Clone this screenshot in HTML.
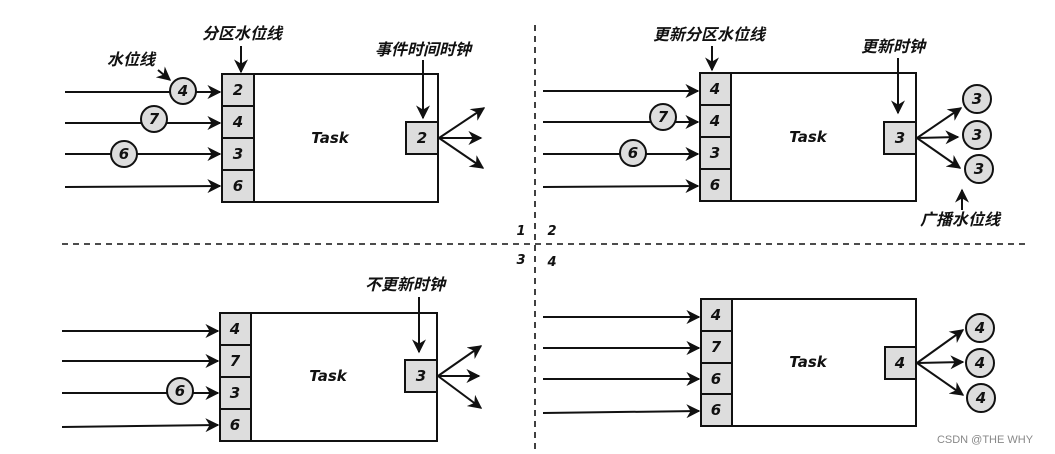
<!DOCTYPE html>
<html><head><meta charset="utf-8"><style>
html,body{margin:0;padding:0;background:#fff;}
svg{display:block}
text{font-family:"DejaVu Sans","Noto Sans CJK SC",sans-serif;font-style:italic;font-weight:bold;fill:#111}
.c{font-size:15px;text-anchor:middle;dominant-baseline:central}
.l{font-size:16px;text-anchor:middle}
</style></head><body>
<svg width="1055" height="454" viewBox="0 0 1055 454" xmlns="http://www.w3.org/2000/svg">
<defs><marker id="a" viewBox="0 0 10 10" refX="9" refY="5" markerWidth="7" markerHeight="7" orient="auto"><path d="M0,0 L10,5 L0,10 L3,5 z" fill="#111"/></marker></defs>
<g stroke="#111" stroke-width="1.6" fill="none" stroke-dasharray="6,5">
<line x1="535" y1="25" x2="535" y2="454"/><line x1="62" y1="244" x2="1025" y2="244"/>
</g>
<text x="521" y="235" class="l" style="font-size:13px">1</text>
<text x="552" y="235" class="l" style="font-size:13px">2</text>
<text x="521" y="264" class="l" style="font-size:13px">3</text>
<text x="552" y="266" class="l" style="font-size:13px">4</text>

<g stroke="#111" stroke-width="2">
<rect x="222" y="74" width="216" height="128" fill="#fff"/>
<rect x="222" y="74" width="32" height="32" fill="#ddd"/><rect x="222" y="106" width="32" height="32" fill="#ddd"/><rect x="222" y="138" width="32" height="32" fill="#ddd"/><rect x="222" y="170" width="32" height="32" fill="#ddd"/>
<rect x="406" y="122" width="32" height="32" fill="#ddd"/>
<rect x="700" y="73" width="216" height="128" fill="#fff"/>
<rect x="700" y="73" width="31" height="32" fill="#ddd"/><rect x="700" y="105" width="31" height="32" fill="#ddd"/><rect x="700" y="137" width="31" height="32" fill="#ddd"/><rect x="700" y="169" width="31" height="32" fill="#ddd"/>
<rect x="884" y="122" width="32" height="32" fill="#ddd"/>
<rect x="220" y="313" width="217" height="128" fill="#fff"/>
<rect x="220" y="313" width="31" height="32" fill="#ddd"/><rect x="220" y="345" width="31" height="32" fill="#ddd"/><rect x="220" y="377" width="31" height="32" fill="#ddd"/><rect x="220" y="409" width="31" height="32" fill="#ddd"/>
<rect x="405" y="360" width="32" height="32" fill="#ddd"/>
<rect x="701" y="299" width="215" height="127" fill="#fff"/>
<rect x="701" y="299" width="31" height="32" fill="#ddd"/><rect x="701" y="331" width="31" height="32" fill="#ddd"/><rect x="701" y="363" width="31" height="31" fill="#ddd"/><rect x="701" y="394" width="31" height="32" fill="#ddd"/>
<rect x="885" y="347" width="31" height="32" fill="#ddd"/>
</g>

<g stroke="#111" stroke-width="2" fill="none" marker-end="url(#a)">
<line x1="65" y1="92" x2="220" y2="92"/><line x1="65" y1="123" x2="220" y2="123"/><line x1="65" y1="154" x2="220" y2="154"/><line x1="65" y1="187" x2="220" y2="186"/>
<line x1="241" y1="46" x2="241" y2="72"/><line x1="423" y1="60" x2="423" y2="118"/><line x1="158" y1="70" x2="170" y2="80"/>
<line x1="439" y1="138" x2="484" y2="108"/><line x1="439" y1="138" x2="481" y2="138"/><line x1="439" y1="138" x2="483" y2="168"/>
<line x1="543" y1="91" x2="698" y2="91"/><line x1="543" y1="122" x2="698" y2="122"/><line x1="543" y1="154" x2="698" y2="154"/><line x1="543" y1="187" x2="698" y2="186"/>
<line x1="712" y1="46" x2="712" y2="70"/><line x1="898" y1="58" x2="898" y2="113"/><line x1="962" y1="210" x2="962" y2="190"/>
<line x1="917" y1="138" x2="961" y2="108"/><line x1="917" y1="138" x2="958" y2="137"/><line x1="917" y1="138" x2="960" y2="168"/>
<line x1="62" y1="331" x2="218" y2="331"/><line x1="62" y1="361" x2="218" y2="361"/><line x1="62" y1="393" x2="218" y2="393"/><line x1="62" y1="427" x2="218" y2="425"/>
<line x1="419" y1="297" x2="419" y2="352"/>
<line x1="438" y1="376" x2="481" y2="346"/><line x1="438" y1="376" x2="479" y2="376"/><line x1="438" y1="376" x2="481" y2="408"/>
<line x1="543" y1="317" x2="699" y2="317"/><line x1="543" y1="348" x2="699" y2="348"/><line x1="543" y1="379" x2="699" y2="379"/><line x1="543" y1="413" x2="699" y2="411"/>
<line x1="917" y1="363" x2="963" y2="330"/><line x1="917" y1="363" x2="963" y2="362"/><line x1="917" y1="363" x2="963" y2="395"/>
</g>

<g stroke="#111" stroke-width="2" fill="#ddd">
<circle cx="183" cy="91" r="13"/><circle cx="154" cy="119" r="13"/><circle cx="124" cy="154" r="13"/>
<circle cx="663" cy="117" r="13"/><circle cx="633" cy="153" r="13"/>
<circle cx="977" cy="99" r="14"/><circle cx="977" cy="135" r="14"/><circle cx="979" cy="169" r="14"/>
<circle cx="180" cy="391" r="13"/>
<circle cx="980" cy="328" r="14"/><circle cx="980" cy="363" r="14"/><circle cx="981" cy="398" r="14"/>
</g>

<g>
<text class="c" x="238" y="90">2</text><text class="c" x="238" y="122">4</text><text class="c" x="238" y="154">3</text><text class="c" x="238" y="186">6</text>
<text class="c" x="422" y="138">2</text><text class="c" x="330" y="138">Task</text>
<text class="c" x="183" y="91">4</text><text class="c" x="154" y="119">7</text><text class="c" x="124" y="154">6</text>
<text class="c" x="715" y="89">4</text><text class="c" x="715" y="121">4</text><text class="c" x="715" y="153">3</text><text class="c" x="715" y="185">6</text>
<text class="c" x="900" y="138">3</text><text class="c" x="808" y="137">Task</text>
<text class="c" x="663" y="117">7</text><text class="c" x="633" y="153">6</text>
<text class="c" x="977" y="99">3</text><text class="c" x="977" y="135">3</text><text class="c" x="979" y="169">3</text>
<text class="c" x="235" y="329">4</text><text class="c" x="235" y="361">7</text><text class="c" x="235" y="393">3</text><text class="c" x="235" y="425">6</text>
<text class="c" x="421" y="376">3</text><text class="c" x="328" y="376">Task</text><text class="c" x="180" y="391">6</text>
<text class="c" x="716" y="315">4</text><text class="c" x="716" y="347">7</text><text class="c" x="716" y="379">6</text><text class="c" x="716" y="410">6</text>
<text class="c" x="900" y="363">4</text><text class="c" x="808" y="362">Task</text>
<text class="c" x="980" y="328">4</text><text class="c" x="980" y="363">4</text><text class="c" x="981" y="398">4</text>
</g>
<text class="l" x="242" y="39">分区水位线</text>
<text class="l" x="131" y="65">水位线</text>
<text class="l" x="423" y="55">事件时间时钟</text>
<text class="l" x="709" y="40">更新分区水位线</text>
<text class="l" x="893" y="52">更新时钟</text>
<text class="l" x="960" y="225">广播水位线</text>
<text class="l" x="405" y="290">不更新时钟</text>
<text x="985" y="443" style="font-size:11px;font-style:normal;font-weight:normal;fill:#888;text-anchor:middle;font-family:'Liberation Sans',sans-serif">CSDN @THE WHY</text>
</svg>
</body></html>
